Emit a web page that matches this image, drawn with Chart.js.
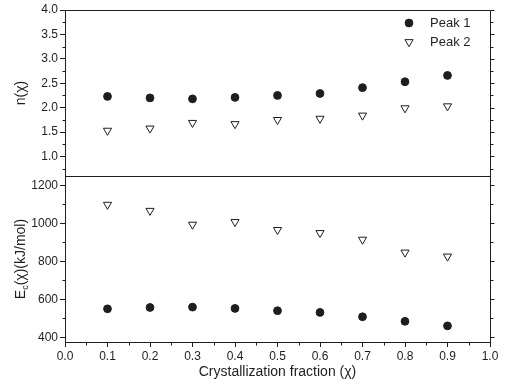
<!DOCTYPE html>
<html><head><meta charset="utf-8">
<script src="https://cdn.jsdelivr.net/npm/chart.js@4/dist/chart.umd.min.js"></script>
<style>html,body{margin:0;padding:0;background:#fff;}canvas{display:block;}</style>
</head><body>
<canvas id="c" width="505" height="386"></canvas>
<script>
const fractions = [0.1, 0.2, 0.3, 0.4, 0.5, 0.6, 0.7, 0.8, 0.9];
const nPeak1 = [2.23, 2.20, 2.18, 2.21, 2.25, 2.29, 2.41, 2.53, 2.66];
const nPeak2 = [1.53, 1.575, 1.69, 1.665, 1.75, 1.775, 1.84, 1.99, 2.03];
const ePeak1 = [550, 557, 559, 552, 540, 531, 508, 484, 460];
const ePeak2 = [1099, 1067, 994, 1008, 966, 950, 915, 847, 826];
const xTicks = [0.0, 0.1, 0.2, 0.3, 0.4, 0.5, 0.6, 0.7, 0.8, 0.9, 1.0];
const xMinor = [0.05, 0.15, 0.25, 0.35, 0.45, 0.55, 0.65, 0.75, 0.85, 0.95];
const nTicks = [1.0, 1.5, 2.0, 2.5, 3.0, 3.5, 4.0];
const nMinor = [0.75, 1.25, 1.75, 2.25, 2.75, 3.25, 3.75];
const eTicks = [400, 600, 800, 1000, 1200];
const eMinor = [500, 700, 900, 1100];
const seriesNames = ['Peak 1', 'Peak 2'];
const xTitle = 'Crystallization fraction (\u03C7)';

const INK = '#1e1e1e';
const FONT = 'Liberation Sans, Arial, sans-serif';

const pts = (ys) => fractions.map((x, i) => ({x: x, y: ys[i]}));

const circleStyle = {pointStyle: 'circle', pointRadius: 3.9, pointBackgroundColor: INK, pointBorderColor: INK, pointBorderWidth: 1, pointRotation: 0};
const triStyle = {pointStyle: 'triangle', pointRadius: 4.7, pointBackgroundColor: '#fff', pointBorderColor: INK, pointBorderWidth: 1, pointRotation: 180};

function yScale(min, max, ticks, weight) {
  return {
    type: 'linear', position: 'left', stack: 'v', stackWeight: weight,
    min: min, max: max,
    afterBuildTicks: s => { s.ticks = ticks.map(v => ({value: v})); },
    afterFit: s => { s.width = 65; },
    ticks: {color: INK, font: {family: FONT, size: 12}, padding: 2, autoSkip: false,
      callback: v => (max < 10 ? Number(v).toFixed(1) : String(v))},
    grid: {drawOnChartArea: false, drawTicks: true, tickLength: 5, tickColor: INK, tickWidth: 1},
    border: {display: true, color: INK, width: 1},
    title: {display: false}
  };
}

const framePlugin = {
  id: 'frame',
  afterDraw(chart) {
    const ctx = chart.ctx, a = chart.chartArea;
    const yN = chart.scales.yN, yE = chart.scales.yE, x = chart.scales.x;
    const R = v => Math.round(v) + 0.5;
    ctx.save();
    ctx.strokeStyle = INK; ctx.lineWidth = 1;
    ctx.beginPath();
    ctx.rect(R(a.left), R(a.top), Math.round(a.right) - Math.round(a.left), Math.round(a.bottom) - Math.round(a.top));
    const div = R(yN.bottom);
    ctx.moveTo(R(a.left), div); ctx.lineTo(R(a.right), div);
    nMinor.forEach(v => { const p = R(yN.getPixelForValue(v)); ctx.moveTo(R(a.left) - 3, p); ctx.lineTo(R(a.left), p); });
    eMinor.forEach(v => { const p = R(yE.getPixelForValue(v)); ctx.moveTo(R(a.left) - 3, p); ctx.lineTo(R(a.left), p); });
    nTicks.forEach(v => { const p = R(yN.getPixelForValue(v)); ctx.moveTo(R(a.right), p); ctx.lineTo(R(a.right) + 4, p); });
    nMinor.forEach(v => { const p = R(yN.getPixelForValue(v)); ctx.moveTo(R(a.right), p); ctx.lineTo(R(a.right) + 3, p); });
    eTicks.forEach(v => { const p = R(yE.getPixelForValue(v)); ctx.moveTo(R(a.right), p); ctx.lineTo(R(a.right) + 4, p); });
    eMinor.forEach(v => { const p = R(yE.getPixelForValue(v)); ctx.moveTo(R(a.right), p); ctx.lineTo(R(a.right) + 3, p); });
    xMinor.forEach(v => { const p = R(x.getPixelForValue(v)); ctx.moveTo(p, R(a.bottom)); ctx.lineTo(p, R(a.bottom) + 3); });
    ctx.stroke();

    // legend
    const lx = 409, ly1 = 23, ly2 = 42;
    ctx.fillStyle = INK; ctx.strokeStyle = INK;
    Chart.helpers.drawPoint(ctx, {pointStyle: 'circle', radius: 3.9, rotation: 0, borderWidth: 1}, lx, ly1);
    ctx.fillStyle = '#fff';
    Chart.helpers.drawPoint(ctx, {pointStyle: 'triangle', radius: 4.7, rotation: 180, borderWidth: 1}, lx, ly2);
    ctx.fillStyle = INK;
    ctx.font = '13px ' + FONT;
    ctx.textAlign = 'left'; ctx.textBaseline = 'middle';
    ctx.fillText(seriesNames[0], 430, ly1);
    ctx.fillText(seriesNames[1], 430, ly2);

    // x title
    ctx.font = '14px ' + FONT;
    ctx.textAlign = 'center';
    ctx.fillText(xTitle, (a.left + a.right) / 2, 372);

    // y title top
    ctx.save();
    ctx.translate(21, (yN.top + yN.bottom) / 2);
    ctx.rotate(-Math.PI / 2);
    ctx.textAlign = 'center';
    ctx.font = '14px ' + FONT;
    ctx.fillText('n(\u03C7)', 0, 0);
    ctx.restore();

    // y title bottom with subscript
    ctx.save();
    ctx.translate(21, (yE.top + yE.bottom) / 2);
    ctx.rotate(-Math.PI / 2);
    ctx.textAlign = 'left';
    const p1 = 'E', p3 = '(\u03C7)(kJ/mol)';
    ctx.font = '14px ' + FONT; const w1 = ctx.measureText(p1).width;
    ctx.font = '9px ' + FONT; const w2 = ctx.measureText('c').width;
    ctx.font = '14px ' + FONT; const w3 = ctx.measureText(p3).width;
    let sx = -(w1 + w2 + w3) / 2;
    ctx.fillText(p1, sx, 0); sx += w1;
    ctx.font = '9px ' + FONT; ctx.fillText('c', sx, 5); sx += w2;
    ctx.font = '14px ' + FONT; ctx.fillText(p3, sx, 0);
    ctx.restore();
    ctx.restore();
  }
};

new Chart(document.getElementById('c'), {
  type: 'scatter',
  data: {
    datasets: [
      Object.assign({label: seriesNames[0], data: pts(nPeak1), yAxisID: 'yN'}, circleStyle),
      Object.assign({label: seriesNames[1], data: pts(nPeak2), yAxisID: 'yN'}, triStyle),
      Object.assign({label: seriesNames[0], data: pts(ePeak1), yAxisID: 'yE'}, circleStyle),
      Object.assign({label: seriesNames[1], data: pts(ePeak2), yAxisID: 'yE'}, triStyle)
    ]
  },
  options: {
    responsive: false, animation: false, devicePixelRatio: 1,
    layout: {padding: {top: 10, right: 15, left: 0, bottom: 0}},
    plugins: {legend: {display: false}, tooltip: {enabled: false}},
    scales: {
      x: {
        type: 'linear', position: 'bottom', min: 0, max: 1,
        afterBuildTicks: s => { s.ticks = xTicks.map(v => ({value: v})); },
        afterFit: s => { s.height = 44; },
        ticks: {color: INK, font: {family: FONT, size: 12}, padding: 2, maxRotation: 0, autoSkip: false,
          callback: v => Number(v).toFixed(1)},
        grid: {drawOnChartArea: false, drawTicks: true, tickLength: 5, tickColor: INK, tickWidth: 1},
        border: {display: true, color: INK, width: 1}
      },
      yE: yScale(375, 1250, eTicks, 1),
      yN: yScale(0.6, 4.0, nTicks, 1)
    }
  },
  plugins: [framePlugin]
});
</script>
</body></html>
